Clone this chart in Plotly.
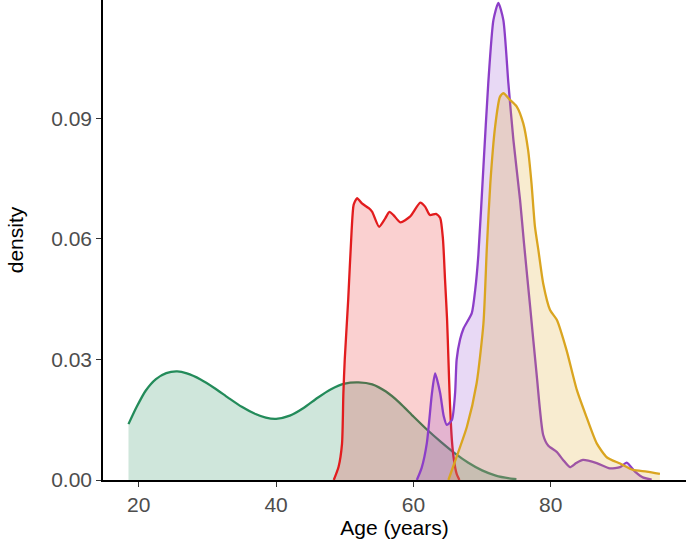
import plotly.graph_objects as go

# Group 1 (green)
green_x = [18.5, 19.7, 21.0, 22.5, 24.0, 25.6, 27.0, 29.0, 31.0, 33.0, 35.0, 37.0, 38.5, 40.0, 42.0,
           44.0, 46.0, 48.0, 50.0, 52.0, 54.0, 56.0, 58.0, 60.0, 62.0, 64.0, 66.0, 68.0, 70.0,
           72.0, 74.0, 75.0]
green_y = [0.0139, 0.0182, 0.0222, 0.0251, 0.0266, 0.0270, 0.0265, 0.0250, 0.0229, 0.0205, 0.0182,
           0.0164, 0.0155, 0.0152, 0.0160, 0.0179, 0.0204, 0.0226, 0.0240, 0.0243, 0.0238, 0.0220,
           0.0192, 0.0158, 0.0125, 0.0095, 0.0067, 0.0043, 0.0024, 0.0011, 0.0004, 0.0002]

# Group 2 (red)
red_x = [48.4, 49.1, 49.6, 49.8, 50.0, 50.5, 51.0, 51.3, 51.8, 52.5, 53.5, 54.0, 55.0, 55.9, 56.5,
         57.1, 58.1, 59.5, 61.0, 61.7, 62.4, 63.3, 63.9, 64.3, 64.6, 64.9, 65.1, 65.3, 65.6, 65.9,
         66.3, 66.7]
red_y = [0.0, 0.0033, 0.009, 0.0216, 0.030, 0.0448, 0.062, 0.0685, 0.0701, 0.0688, 0.0676, 0.0667,
         0.0630, 0.0651, 0.0667, 0.0659, 0.0641, 0.0655, 0.0690, 0.0680, 0.0659, 0.0662, 0.0652,
         0.0600, 0.0500, 0.0400, 0.0300, 0.0200, 0.0100, 0.0050, 0.0015, 0.0]

# Group 3 (purple)
purple_x = [60.5, 61.2, 61.95, 62.7, 63.16, 63.9, 64.4, 64.86, 65.6, 66.07, 66.3, 66.8, 67.3, 68.5,
            69.0, 69.46, 70.2, 70.9, 71.65, 72.37, 73.1, 73.83, 74.56, 75.53, 76.1, 77.0, 77.96,
            78.9, 79.65, 80.87, 81.8, 82.8, 83.7, 84.7, 86.7, 88.6, 90.1, 91.06, 92.27, 93.5, 94.7]
purple_y = [0.0, 0.003, 0.0091, 0.0216, 0.0265, 0.0216, 0.016, 0.0137, 0.0149, 0.0216, 0.030,
            0.035, 0.0377, 0.0415, 0.0473, 0.0560, 0.0780, 0.0987, 0.1144, 0.1187, 0.1144, 0.0987,
            0.0846, 0.0697, 0.0590, 0.0431, 0.0260, 0.0112, 0.0085, 0.0070, 0.0050, 0.0032, 0.0042,
            0.0050, 0.0042, 0.0029, 0.0032, 0.0043, 0.0021, 0.0006, 0.0001]

# Group 4 (gold)
gold_x = [65.1, 66.3, 67.8, 69.2, 70.2, 70.7, 71.2, 71.9, 72.6, 73.1, 74.1, 75.05, 76.0, 76.7, 77.2,
          77.7, 78.2, 78.9, 79.9, 80.9, 82.3, 83.8, 85.2, 86.7, 88.2, 90.1, 92.0, 94.0, 95.9]
gold_y = [0.0, 0.0058, 0.0133, 0.024, 0.039, 0.058, 0.0738, 0.0879, 0.0953, 0.0962, 0.0945, 0.0929,
          0.0887, 0.0821, 0.0738, 0.0630, 0.0572, 0.0489, 0.0423, 0.0398, 0.0323, 0.0224, 0.0157,
          0.0091, 0.0056, 0.0041, 0.0025, 0.0021, 0.0015]

x_ticks = [20, 40, 60, 80]
y_ticks = [0.00, 0.03, 0.06, 0.09]
y_tick_labels = ["0.00", "0.03", "0.06", "0.09"]

series = [
    (green_x, green_y, "rgb(35,139,90)", "rgba(35,139,90,0.22)"),
    (red_x, red_y, "rgb(226,28,30)", "rgba(232,40,40,0.22)"),
    (purple_x, purple_y, "rgb(140,62,200)", "rgba(150,80,210,0.22)"),
    (gold_x, gold_y, "rgb(218,165,32)", "rgba(222,170,40,0.22)"),
]

fig = go.Figure()
for xs, ys, lc, fc in series:
    fig.add_trace(go.Scatter(
        x=xs, y=ys, mode="lines", fill="tozeroy", fillcolor=fc,
        line=dict(color=lc, width=2.3, shape="spline", smoothing=0.6),
        showlegend=False, hoverinfo="skip",
    ))

axis_font = dict(family="Liberation Sans, Arial, sans-serif", size=21, color="#4D4D4D")
title_font = dict(family="Liberation Sans, Arial, sans-serif", size=21, color="#000000")

fig.update_layout(
    width=690, height=543,
    margin=dict(l=103, r=4, t=0, b=63),
    paper_bgcolor="white", plot_bgcolor="white",
    xaxis=dict(
        range=[14.79, 99.7], tickvals=x_ticks, ticks="outside", ticklen=5, tickwidth=1.3,
        tickcolor="#333333", showline=True, linecolor="black", linewidth=1.6, showgrid=False,
        zeroline=False, tickfont=axis_font,
        title=dict(text="Age (years)", font=title_font, standoff=0),
    ),
    yaxis=dict(
        range=[0, 0.1194], tickvals=y_ticks, ticktext=y_tick_labels, ticks="outside", ticklen=5,
        tickwidth=1.3, tickcolor="#333333", showline=True, linecolor="black", linewidth=1.6,
        showgrid=False, zeroline=False, tickfont=axis_font,
        title=dict(text="density", font=title_font, standoff=22),
    ),
)

fig.write_html("out.html", config={"displayModeBar": False},
               post_script="document.body.style.margin='0px';")
